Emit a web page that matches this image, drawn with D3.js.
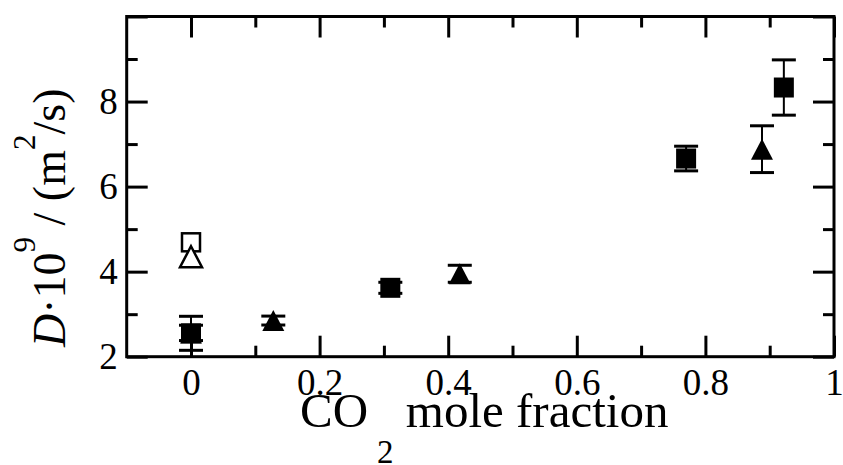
<!DOCTYPE html>
<html>
<head>
<meta charset="utf-8">
<script src="https://cdn.jsdelivr.net/npm/d3@7/dist/d3.min.js"></script>
<style>
  body { margin: 0; background: #fff; }
  svg text { font-family: "Liberation Serif", serif !important; }
</style>
</head>
<body>
<div id="chart"></div>
<script>
// data
var sqFilledX = [0, 0.31, 0.77, 0.922];
var sqFilledY = [2.55, 3.62, 6.66, 8.33];
var sqFilledErr = [0.40, 0.13, 0.29, 0.65];

var triFilledX = [0, 0.128, 0.418, 0.888];
var triFilledY = [2.56, 2.85, 3.95, 6.88];
var triFilledErr = [0.18, 0.105, 0.20, 0.55];

var sqOpenX = [0];
var sqOpenY = [4.69];
var triOpenX = [0];
var triOpenY = [4.35];

var xMajor = [0, 0.2, 0.4, 0.6, 0.8, 1];
var xMajorLabels = ["0", "0.2", "0.4", "0.6", "0.8", "1"];
var xMinor = [0.1, 0.3, 0.5, 0.7, 0.9];
var yMajor = [2, 4, 6, 8, 10];
var yMajorLabels = ["2", "4", "6", "8", ""];
var yMinor = [3, 5, 7, 9];

var svgWidth = 843;
var svgHeight = 465;

var margin = { top: 16.5, bottom: 108.3, left: 126.7, right: 9 };
var width = svgWidth - margin.left - margin.right;
var height = svgHeight - margin.top - margin.bottom;

var svg = d3.select("#chart")
    .append("svg")
    .attr("width", svgWidth)
    .attr("height", svgHeight);

var chartGroup = svg.append("g")
    .attr("transform", `translate(${margin.left}, ${margin.top})`);

var xScale = d3.scaleLinear().domain([-0.1, 1]).range([0, width]);
var yScale = d3.scaleLinear().domain([2, 10]).range([height, 0]);

var majorLen = 21, minorLen = 11;

// axes: ticks point inward on all four sides
function styleAxis(g) {
    g.attr("font-family", null).attr("font-size", 37);
    g.select(".domain").remove();
    g.selectAll(".tick line").attr("stroke", "#000").attr("stroke-width", 3);
    g.selectAll(".tick text").attr("fill", "#000");
}

chartGroup.append("g")
    .attr("transform", `translate(0,${height})`)
    .call(d3.axisBottom(xScale).tickValues(xMajor).tickSize(-majorLen).tickPadding(12)
        .tickFormat((d, i) => xMajorLabels[i]))
    .call(styleAxis);
chartGroup.append("g")
    .attr("transform", `translate(0,${height})`)
    .call(d3.axisBottom(xScale).tickValues(xMinor).tickSize(-minorLen).tickFormat(""))
    .call(styleAxis);
chartGroup.append("g")
    .call(d3.axisTop(xScale).tickValues(xMajor).tickSize(-majorLen).tickFormat(""))
    .call(styleAxis);
chartGroup.append("g")
    .call(d3.axisTop(xScale).tickValues(xMinor).tickSize(-minorLen).tickFormat(""))
    .call(styleAxis);

chartGroup.append("g")
    .call(d3.axisLeft(yScale).tickValues(yMajor).tickSize(-majorLen).tickPadding(9)
        .tickFormat((d, i) => yMajorLabels[i]))
    .call(styleAxis);
chartGroup.append("g")
    .call(d3.axisLeft(yScale).tickValues(yMinor).tickSize(-minorLen).tickFormat(""))
    .call(styleAxis);
chartGroup.append("g")
    .attr("transform", `translate(${width},0)`)
    .call(d3.axisRight(yScale).tickValues(yMajor).tickSize(-majorLen).tickFormat(""))
    .call(styleAxis);
chartGroup.append("g")
    .attr("transform", `translate(${width},0)`)
    .call(d3.axisRight(yScale).tickValues(yMinor).tickSize(-minorLen).tickFormat(""))
    .call(styleAxis);

// frame
chartGroup.append("rect")
    .attr("width", width)
    .attr("height", height)
    .attr("fill", "none")
    .attr("stroke", "#000")
    .attr("stroke-width", 3);

// symbols
var sq = 20, triW = 22, triH = 21, capW = 24;
function triPath(cx, cy) {
    return `M${cx},${cy - triH / 2}L${cx + triW / 2},${cy + triH / 2}L${cx - triW / 2},${cy + triH / 2}Z`;
}

function errorBars(xs, ys, errs) {
    var g = chartGroup.append("g").attr("stroke", "#000");
    xs.forEach(function (x, i) {
        var cx = xScale(x);
        var top = yScale(ys[i] + errs[i]);
        var bot = yScale(ys[i] - errs[i]);
        g.append("line").attr("x1", cx).attr("x2", cx).attr("y1", top).attr("y2", bot)
            .attr("stroke-width", 2);
        [top, bot].forEach(function (y) {
            g.append("line").attr("x1", cx - capW / 2).attr("x2", cx + capW / 2)
                .attr("y1", y).attr("y2", y).attr("stroke-width", 3);
        });
    });
}

// filled triangles
chartGroup.append("g").selectAll("path")
    .data(triFilledX)
    .enter()
    .append("path")
    .attr("d", (d, i) => triPath(xScale(d), yScale(triFilledY[i])))
    .attr("fill", "#000");
errorBars(triFilledX, triFilledY, triFilledErr);

// filled squares
chartGroup.append("g").selectAll("rect")
    .data(sqFilledX)
    .enter()
    .append("rect")
    .attr("x", d => xScale(d) - sq / 2)
    .attr("y", (d, i) => yScale(sqFilledY[i]) - sq / 2)
    .attr("width", sq)
    .attr("height", sq)
    .attr("fill", "#000");
errorBars(sqFilledX, sqFilledY, sqFilledErr);

// open square then open triangle over it
chartGroup.append("g").selectAll("rect")
    .data(sqOpenX)
    .enter()
    .append("rect")
    .attr("x", d => xScale(d) - sq / 2 + 1)
    .attr("y", (d, i) => yScale(sqOpenY[i]) - sq / 2 + 1)
    .attr("width", sq - 2)
    .attr("height", sq - 2)
    .attr("fill", "#fff")
    .attr("stroke", "#000")
    .attr("stroke-width", 2.5);
chartGroup.append("g").selectAll("path")
    .data(triOpenX)
    .enter()
    .append("path")
    .attr("d", (d, i) => triPath(xScale(d), yScale(triOpenY[i])))
    .attr("fill", "#fff")
    .attr("stroke", "#000")
    .attr("stroke-width", 2.5);

// axis titles
var xTitle = svg.append("text")
    .attr("x", 300)
    .attr("y", 427)
    .attr("font-size", 49);
xTitle.append("tspan").text("CO");
xTitle.append("tspan").attr("dx", 9).attr("dy", 36).attr("font-size", 33).text("2");
xTitle.append("tspan").attr("dy", -36).text(" mole fraction");

var yTitle = svg.append("text")
    .attr("transform", "translate(65,347) rotate(-90)")
    .attr("font-size", 46);
yTitle.append("tspan").attr("font-style", "italic").text("D");
yTitle.append("tspan").text("\u00b710");
yTitle.append("tspan").attr("dy", -30).attr("font-size", 31).text("9");
yTitle.append("tspan").attr("dy", 30).text(" / (m");
yTitle.append("tspan").attr("dy", -30).attr("font-size", 31).text("2");
yTitle.append("tspan").attr("dy", 30).text("/s)");
</script>
</body>
</html>
